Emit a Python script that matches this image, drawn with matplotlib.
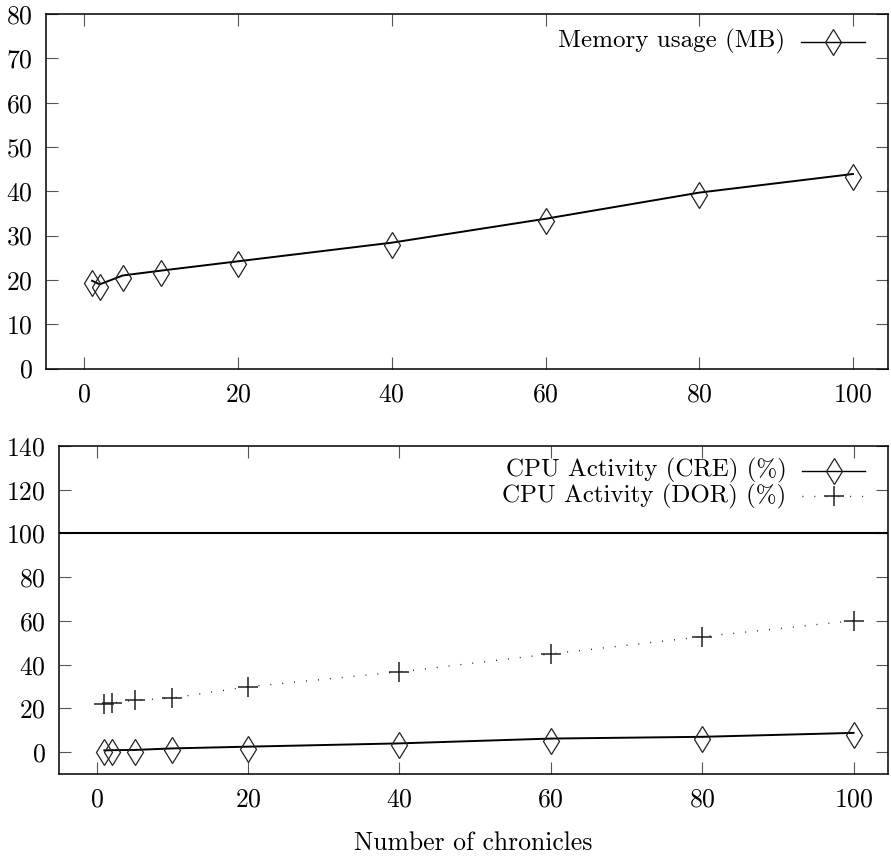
import numpy as np
import matplotlib
matplotlib.use("Agg")
import matplotlib.pyplot as plt
from matplotlib import transforms
from matplotlib.lines import Line2D

plt.rcParams["font.family"] = ["cmr10", "DejaVu Serif"]
plt.rcParams["axes.formatter.use_mathtext"] = True
plt.rcParams["font.size"] = 18.5

# chroniques
chronicles = [1, 2, 5, 10, 20, 40, 60, 80, 100]
memory_mb = [19.8, 19.0, 21.0, 22.1, 24.2, 28.4, 33.8, 39.7, 43.9]
cpu_cre = [0.8, 0.9, 1.0, 1.7, 2.5, 4.0, 6.2, 7.0, 8.8]
cpu_dor = [22.2, 22.5, 23.7, 24.8, 29.9, 36.7, 44.9, 52.8, 60.1]
cpu_max = 100

INK = "#222222"
DIAM = 13.5


def style_axes(ax):
    for s in ax.spines.values():
        s.set_linewidth(1.1)
    ax.tick_params(direction="in", length=8.5, width=0.8, color="#555555",
                   top=True, right=True, labelsize=18.5)
    ax.tick_params(axis="y", pad=9.5)
    ax.tick_params(axis="x", pad=10)


def legend_row(ax, y, label, ls, marker, ms, mew):
    ax.text(0.877, y, label, transform=ax.transAxes, ha="right", va="center",
            fontsize=18)
    ax.add_line(Line2D([0.896, 0.972], [y, y], transform=ax.transAxes,
                       color="black", lw=1.0, ls=ls))
    ax.add_line(Line2D([0.934], [y], transform=ax.transAxes, marker=marker,
                       ms=ms, mew=mew, mfc="none", mec=INK, ls="none"))


fig = plt.figure(figsize=(8.91, 8.56), dpi=100)

# --- mémoire
ax1 = fig.add_axes([0.0516, 0.5695, 0.9454, 0.4141])
off1 = transforms.offset_copy(ax1.transData, fig=fig, x=0, y=-2.6, units="dots")
ax1.plot(chronicles, memory_mb, color="black", lw=1.4)
ax1.plot(chronicles, memory_mb, ls="none", marker="d", ms=DIAM, mfc="none",
         mec=INK, mew=0.9, transform=off1)
ax1.set_xlim(-5, 104.6)
ax1.set_ylim(0, 80)
ax1.set_xticks([0, 20, 40, 60, 80, 100])
ax1.set_yticks(np.arange(0, 81, 10))
style_axes(ax1)
legend_row(ax1, 0.922, "Memory usage (MB)", "-", "d", DIAM, 0.9)

# --- CPU
ax2 = fig.add_axes([0.0662, 0.0958, 0.9308, 0.3832])
off2 = transforms.offset_copy(ax2.transData, fig=fig, x=0, y=-2.0, units="dots")
ax2.axhline(cpu_max, color="black", lw=1.5)
ax2.plot(chronicles, cpu_cre, color="black", lw=1.4)
ax2.plot(chronicles, cpu_cre, ls="none", marker="d", ms=DIAM, mfc="none",
         mec=INK, mew=0.9, transform=off2)
ax2.plot(chronicles, cpu_dor, color="black", lw=1.0, ls=(0, (0.6, 8)))
ax2.plot(chronicles, cpu_dor, ls="none", marker="+", ms=14, mec=INK, mew=1.1)
ax2.set_xlim(-5, 104.6)
ax2.set_ylim(-10, 140)
ax2.set_xticks([0, 20, 40, 60, 80, 100])
ax2.set_yticks(np.arange(0, 141, 20))
style_axes(ax2)
ax2.set_xlabel("Number of chronicles", labelpad=14)
legend_row(ax2, 0.924, "CPU Activity (CRE) (%)", "-", "d", DIAM, 0.9)
legend_row(ax2, 0.847, "CPU Activity (DOR) (%)", (0, (0.6, 8)), "+", 14, 1.1)

fig.savefig("out.png", dpi=100, facecolor="white")
